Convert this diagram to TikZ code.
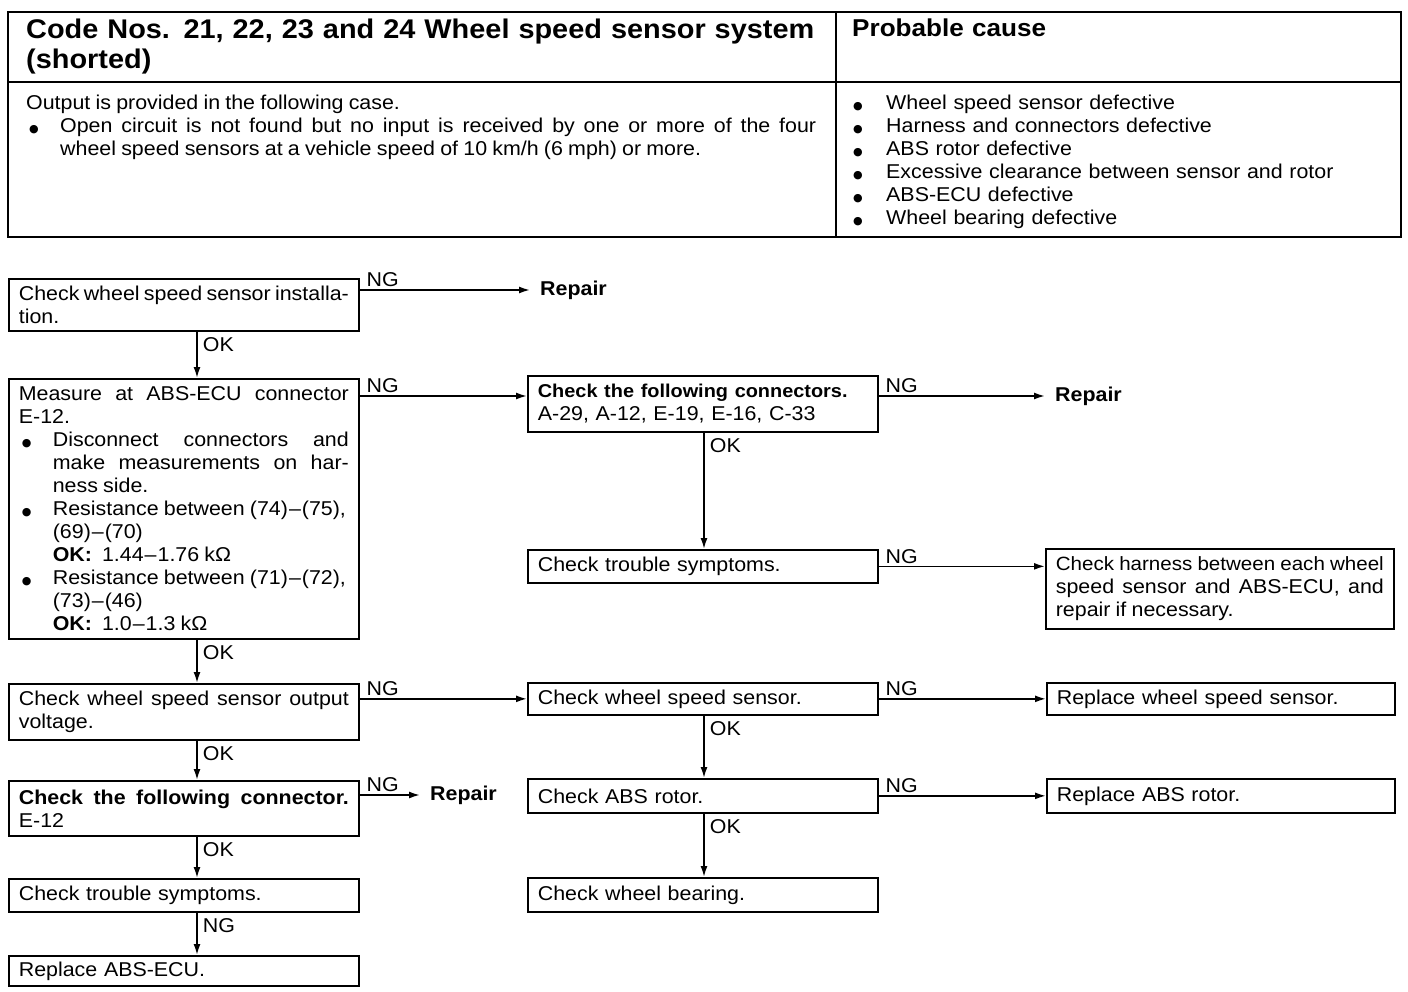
\documentclass[tikz,border=0pt]{standalone}
\usepackage{fontspec}
\setmainfont{Liberation Sans}[FakeStretch=1.07]
\newfontfamily\dotfont{DejaVu Sans}
\usetikzlibrary{arrows.meta,calc}
\newcommand\mydot{{\dotfont\fontsize{11}{11}\selectfont ●}}
\newcommand\mybul{\makebox[34pt][l]{\hspace{3pt}\mydot}}
\newcommand\mybulR{\makebox[34pt][l]{\hspace{1pt}\mydot}}
\newcommand\dsh{\kern1pt–\kern1pt}
\newcommand\txtsetup{\fontsize{20}{23}\selectfont\spaceskip=0.26em plus 0.6em minus 0.15em\hyphenpenalty=10000\exhyphenpenalty=10000\tolerance=9999\relax}
\begin{document}
\begin{tikzpicture}[x=1pt,y=-1pt,
  txt/.style={font=\txtsetup},
  box/.style={draw, line width=1.7pt, anchor=north west, inner xsep=10pt, inner ysep=0pt,
    minimum width=350pt, text width=330pt, align=justify, txt},
  boxR/.style={box, minimum width=348pt, text width=328pt},
  arr/.style={line width=1.7pt, -{Latex[length=11pt,width=7pt]}},
  ng/.style={at start, anchor=south west, inner sep=1pt, xshift=5pt, yshift=1pt, txt},
  ok/.style={at start, anchor=north west, inner sep=1pt, xshift=4pt, yshift=-4pt, txt},
  rep/.style={anchor=west, inner xsep=10pt, inner ysep=0pt, font={\txtsetup\bfseries}}
]
\useasboundingbox (0,0) rectangle (1408,992);
% header table
\draw[line width=2.5pt] (8,12) rectangle (1401,237);
\draw[line width=1.5pt] (836,12) -- (836,237);
\draw[line width=1.5pt] (8,82) -- (1401,82);
\node[anchor=north west, inner sep=0pt, text width=805pt, align=left,
  font={\fontsize{27}{30}\selectfont\bfseries}] (title) at (26,19)
  {Code Nos. 21, 22, 23 and 24 Wheel speed sensor system\\(shorted)};
\node[anchor=north west, inner sep=0pt, text width=500pt, align=left,
  font={\fontsize{24.4}{30}\selectfont\bfseries}] (pc) at (852,19) {Probable cause};
\node[anchor=north west, inner sep=0pt, text width=790pt, align=justify, txt] (desc) at (26,95)
  {Output is provided in the following case.\par
   \hangindent=34pt\hangafter=1\noindent\mybul Open circuit is not found but no input is received by one or more of the four\linebreak wheel speed sensors at a vehicle speed of 10 km/h (6 mph) or more.\par};
\node[anchor=north west, inner sep=0pt, text width=540pt, align=left, txt] (causes) at (852,95)
  {\mybulR Wheel speed sensor defective\\
   \mybulR Harness and connectors defective\\
   \mybulR ABS rotor defective\\
   \mybulR Excessive clearance between sensor and rotor\\
   \mybulR ABS-ECU defective\\
   \mybulR Wheel bearing defective};
% flow boxes
\node[box, minimum height=52pt] (b1) at (8,278) {Check wheel speed sensor installa-\linebreak tion.\par};
\node[box, minimum height=260pt] (b2) at (8,378)
  {Measure at ABS-ECU connector\linebreak E-12.\par
   \hangindent=34pt\hangafter=1\noindent\mybul Disconnect connectors and\linebreak make measurements on har-\linebreak ness side.\par
   \hangindent=34pt\hangafter=1\noindent\mybul Resistance between (74)\dsh(75),\newline (69)\dsh(70)\newline \textbf{OK:}\enspace 1.44\dsh1.76 kΩ\par
   \hangindent=34pt\hangafter=1\noindent\mybul Resistance between (71)\dsh(72),\newline (73)\dsh(46)\newline \textbf{OK:}\enspace 1.0\dsh1.3 kΩ\par};
\node[box, minimum height=56pt, align=left] (b3) at (527,375) {{\fontsize{18.6}{23}\selectfont\bfseries Check the following connectors.}\\A-29, A-12, E-19, E-16, C-33};
\node[box, minimum height=33pt, align=left] (b4) at (527,549) {Check trouble symptoms.};
\node[boxR, minimum height=80pt] (b5) at (1045,548) {{\fontsize{19.2}{23}\selectfont Check harness between each wheel}\linebreak speed sensor and ABS-ECU, and\linebreak repair if necessary.\par};
\node[box, minimum height=56pt] (b6) at (8,683) {Check wheel speed sensor output\linebreak voltage.\par};
\node[box, minimum height=32pt, align=left] (b7) at (527,682) {Check wheel speed sensor.};
\node[boxR, minimum height=32pt, align=left] (b8) at (1046,682) {Replace wheel speed sensor.};
\node[box, minimum height=34pt, align=left] (b9) at (527,778) {Check ABS rotor.};
\node[boxR, minimum height=34pt, align=left] (b10) at (1046,778) {Replace ABS rotor.};
\node[box, minimum height=34pt, align=left] (b11) at (527,877) {Check wheel bearing.};
\node[box, minimum height=55pt] (b12) at (8,780) {\textbf{Check the following connector.}\linebreak E-12\par};
\node[box, minimum height=33pt, align=left] (b13) at (8,878) {Check trouble symptoms.};
\node[box, minimum height=30pt, align=left] (b14) at (8,955) {Replace ABS-ECU.};
% repair targets
\node[rep] (r1) at (530,290) {Repair};
\node[rep] (r2) at (1045,396) {Repair};
\node[rep] (r3) at (420,795) {Repair};
% axes for vertical connectors
\coordinate (axL) at (197,0);
\coordinate (axM) at (704,0);
\coordinate (p23) at ([yshift=-21pt]b3.north west);
\coordinate (p12) at ([yshift=-15pt]b12.north east);
% horizontal NG connectors
\draw[arr] (b1.east |- r1.west) -- (r1.west) node[ng] {NG};
\draw[arr] (b2.east |- p23) -- (p23) node[ng] {NG};
\draw[arr] (b3.east |- r2.west) -- (r2.west) node[ng] {NG};
\draw[arr] (b4.east) -- (b4.east -| b5.west) node[ng] {NG};
\draw[arr] (b6.east |- b7.west) -- (b7.west) node[ng] {NG};
\draw[arr] (b7.east) -- (b8.west) node[ng] {NG};
\draw[arr] (b9.east) -- (b10.west) node[ng] {NG};
\draw[arr] (p12) -- (p12 -| r3.west) node[ng] {NG};
% vertical connectors
\draw[arr] (b1.south -| axL) -- (b2.north -| axL) node[ok] {OK};
\draw[arr] (b2.south -| axL) -- (b6.north -| axL) node[ok] {OK};
\draw[arr] (b6.south -| axL) -- (b12.north -| axL) node[ok] {OK};
\draw[arr] (b12.south -| axL) -- (b13.north -| axL) node[ok] {OK};
\draw[arr] (b13.south -| axL) -- (b14.north -| axL) node[ok] {NG};
\draw[arr] (b3.south -| axM) -- (b4.north -| axM) node[ok] {OK};
\draw[arr] (b7.south -| axM) -- (b9.north -| axM) node[ok] {OK};
\draw[arr] (b9.south -| axM) -- (b11.north -| axM) node[ok] {OK};
\end{tikzpicture}
\end{document}
